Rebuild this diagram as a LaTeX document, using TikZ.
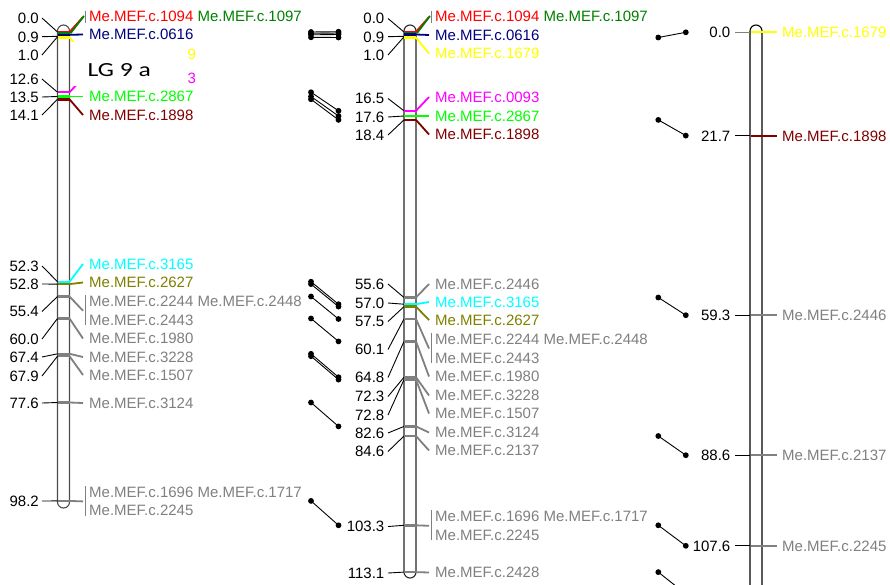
\documentclass[tikz,border=0pt]{standalone}
\usepackage{fontspec}
\setmainfont{Liberation Sans}
\newfontfamily\lgfont{Carlito}
\definecolor{mred}{HTML}{FF0000}
\definecolor{mgreen}{HTML}{008000}
\definecolor{mblue}{HTML}{000080}
\definecolor{myellow}{HTML}{FFFF00}
\definecolor{mmagenta}{HTML}{FF00FF}
\definecolor{mlime}{HTML}{00FF00}
\definecolor{mdred}{HTML}{800000}
\definecolor{mcyan}{HTML}{00FFFF}
\definecolor{molive}{HTML}{808000}
\definecolor{mgray}{HTML}{808080}
\newcommand\lblfont{\fontsize{15}{17}\selectfont}
\begin{document}
\begin{tikzpicture}[x=1pt,y=-1pt,
  lbl/.style={inner sep=0pt, anchor=west, font=\lblfont, text height=10.8pt, text depth=0pt},
  num/.style={inner sep=0pt, anchor=east, font=\lblfont, text height=10.8pt, text depth=0pt},
  tick/.style={black, line width=0.9pt},
  stub/.style={line width=2.4pt},
  conn/.style={line width=1.8pt},
  bracket/.style={mgray, line width=1.3pt},
  chrom/.style={fill=white, line width=1.1pt, rounded corners=6pt},
  hom/.style={black, line width=0.9pt}]
\useasboundingbox (0,0) rectangle (890,584);
\clip (0,0) rectangle (890,584);
\fill[white] (0,0) rectangle (890,584);

% ---------------- chromosomes
\draw[chrom, draw=black!70] (57.5,25) rectangle (69.5,508);
\draw[chrom, draw=black!85] (404,25) rectangle (416,578);
\draw[chrom, draw=black] (750,25) rectangle (762,640);

% ================= LEFT =================
\foreach \txt/\yl/\ym [count=\k] in {0.0/18/32, 0.9/36.7/36.3, 1.0/55/36.8, 12.6/79/92.2, 13.5/97/96.5, 14.1/115/99.3, 52.3/266/281.7, 52.8/284/284.1, 55.4/311.5/296.5, 60.0/339/318.5, 67.4/357/353.8, 67.9/376/356.2, 77.6/403/402.5, 98.2/501/500.9}
{ \node[num] (lnum\k) at (39,\yl) {\txt};
  \draw[tick] ([xshift=3pt]lnum\k.east) -- (57.5,\ym); }

% group 0.0
\node[lbl] (l1094) at (89,16.5) {\textcolor{mred}{Me.MEF.c.1094} \textcolor{mgreen}{Me.MEF.c.1097}};
\draw[stub, mred] (57.5,32) -- (69.5,32);
\draw[conn, mred] (69.5,32) -- ([xshift=-6pt,yshift=-0.6pt]l1094.west);
\draw[stub, mgreen] (57.5,33.3) -- (69.5,33.3);
\draw[conn, mgreen] (70.5,33.3) -- ([xshift=-5pt,yshift=0.6pt]l1094.west);
\draw[bracket] (85.5,10.5) -- (85.5,22.5);

\foreach \txt/\col/\yl/\ym [count=\k] in {0616/mblue/34.5/34.8, 2867/mlime/96.5/96.5, 1898/mdred/115/99.3, 3165/mcyan/264/281.7, 2627/molive/282.5/284.1, 1980/mgray/338.5/318.5, 3228/mgray/357/353.8, 1507/mgray/375/356.2, 3124/mgray/403/402.5}
{ \node[lbl, text=\col] (lmk\k) at (89,\yl) {Me.MEF.c.\txt};
  \draw[stub, color=\col] (57.5,\ym) -- (69.5,\ym);
  \draw[conn, color=\col] (69.5,\ym) -- ([xshift=-6pt]lmk\k.west); }

% markers whose labels are hidden by the title box (only last digit shows)
\draw[stub, myellow] (57.5,37.3) -- (69.5,37.3);
\draw[conn, myellow] (69.5,37.3) -- (83,54);
\draw[stub, mmagenta] (57.5,92.2) -- (69.5,92.2);
\draw[conn, mmagenta] (69.5,92.2) -- (83,78);
\fill[white] (72,42) rectangle (186.5,86);
\node[lbl, text=myellow] (l1679) at (187.5,54) {9};
\node[lbl, text=mmagenta] (l0093) at (187.5,78) {3};
\node[inner sep=0pt, anchor=base west, font=\lgfont\fontsize{20}{24}\selectfont] (lg) at (87.5,76) {\scalebox{1.28}[1]{LG 9 a}};

% group 55.4
\node[lbl, text=mgray] (l2244) at (89,301.5) {Me.MEF.c.2244 Me.MEF.c.2448};
\node[lbl, text=mgray] (l2443) at (89,320) {Me.MEF.c.2443};
\draw[stub, mgray] (57.5,296.5) -- (69.5,296.5);
\draw[conn, mgray] (69.5,296.5) -- (83,310.75);
\draw[bracket] (85.5,295.2) -- (85.5,325);
% group 98.2
\node[lbl, text=mgray] (l1696) at (89,492.3) {Me.MEF.c.1696 Me.MEF.c.1717};
\node[lbl, text=mgray] (l2245) at (89,510.5) {Me.MEF.c.2245};
\draw[stub, mgray] (57.5,500.9) -- (69.5,500.9);
\draw[conn, mgray] (69.5,500.9) -- (83,501.4);
\draw[bracket] (85.5,486) -- (85.5,515.7);

% ================= MIDDLE =================
\foreach \txt/\yl/\ym [count=\k] in {0.0/18.5/32, 0.9/36.7/36.3, 1.0/55/36.8, 16.5/98.5/110.8, 17.6/117/116, 18.4/135/119.9, 55.6/284/297.5, 57.0/303/304.2, 57.5/321.5/306.6, 60.1/349.5/319, 64.8/377.5/341.4, 72.3/396.5/377.2, 72.8/415/379.6, 82.6/433/426.4, 84.6/451.5/436, 103.3/526.5/525.3, 113.1/573/572.1}
{ \node[num] (mnum\k) at (384.5,\yl) {\txt};
  \draw[tick] ([xshift=3.5pt]mnum\k.east) -- (404,\ym); }

\node[lbl] (m1094) at (435,16.5) {\textcolor{mred}{Me.MEF.c.1094} \textcolor{mgreen}{Me.MEF.c.1097}};
\draw[stub, mred] (404,31.7) -- (416,31.7);
\draw[conn, mred] (416,31.7) -- ([xshift=-6pt,yshift=-0.6pt]m1094.west);
\draw[stub, mgreen] (404,33) -- (416,33);
\draw[conn, mgreen] (417,33) -- ([xshift=-5pt,yshift=0.6pt]m1094.west);
\draw[bracket] (431.5,10.5) -- (431.5,22.5);

\foreach \txt/\col/\yl/\ym [count=\k] in {0616/mblue/35/34.5, 1679/myellow/53.5/37.5, 0093/mmagenta/97/110.8, 2867/mlime/116/116, 1898/mdred/134.5/119.9, 2446/mgray/284/297.5, 3165/mcyan/302/304.2, 2627/molive/320/306.6, 1980/mgray/376.5/341.4, 3228/mgray/395.5/377.2, 1507/mgray/413.5/379.6, 3124/mgray/432.5/426.4, 2137/mgray/450.5/436, 2428/mgray/572.5/572.1}
{ \node[lbl, text=\col] (mmk\k) at (435,\yl) {Me.MEF.c.\txt};
  \draw[stub, color=\col] (404,\ym) -- (416,\ym);
  \draw[conn, color=\col] (416,\ym) -- ([xshift=-6pt]mmk\k.west); }

\node[lbl, text=mgray] (m2244) at (435,339) {Me.MEF.c.2244 Me.MEF.c.2448};
\node[lbl, text=mgray] (m2443) at (435,358) {Me.MEF.c.2443};
\draw[stub, mgray] (404,319) -- (416,319);
\draw[conn, mgray] (416,319) -- (429,348.5);
\draw[bracket] (431.5,332.7) -- (431.5,363);

\node[lbl, text=mgray] (m1696) at (435,516.5) {Me.MEF.c.1696 Me.MEF.c.1717};
\node[lbl, text=mgray] (m2245) at (435,535) {Me.MEF.c.2245};
\draw[stub, mgray] (404,525.3) -- (416,525.3);
\draw[conn, mgray] (416,525.3) -- (429,525.8);
\draw[bracket] (431.5,510.2) -- (431.5,540);

% ================= RIGHT =================
\foreach \txt/\nm/\col/\ym/\tc [count=\k] in {0.0/1679/myellow/32.3/mgray, 21.7/1898/mdred/135.6/black, 59.3/2446/mgray/315.2/black, 88.6/2137/mgray/455.2/black, 107.6/2245/mgray/545.8/black}
{ \node[num] (rnum\k) at (730.5,\ym) {\txt};
  \draw[tick, color=\tc] ([xshift=4.5pt]rnum\k.east) -- (750,\ym);
  \node[lbl, text=\col] (rmk\k) at (782,\ym) {Me.MEF.c.\nm};
  \draw[conn, color=\col] (751,\ym) -- ([xshift=-5.5pt]rmk\k.west); }

% ================= homology lines =================
\foreach \a/\b [count=\k] in {32/31.7, 33.3/33, 34.8/34.5, 37.3/37.5, 92.2/110.8, 96.5/116, 99.3/119.9, 281.7/304.2, 284.1/306.6, 296.5/319, 318.5/341.4, 353.8/377.2, 356.2/379.6, 402.5/426.4, 500.9/525.3}
{ \coordinate (hla\k) at (311,\a);
  \coordinate (hlb\k) at (338.5,\b);
  \draw[hom] (hla\k) -- (hlb\k);
  \fill (hla\k) circle[radius=2.9pt];
  \fill (hlb\k) circle[radius=2.9pt]; }

\foreach \a/\b [count=\k] in {37.5/32.3, 119.9/135.6, 297.5/315.2, 436/455.2, 525.3/545.8, 572.1/594}
{ \coordinate (hra\k) at (658.3,\a);
  \coordinate (hrb\k) at (685.8,\b);
  \draw[hom] (hra\k) -- (hrb\k);
  \fill (hra\k) circle[radius=2.9pt];
  \fill (hrb\k) circle[radius=2.9pt]; }
\end{tikzpicture}
\end{document}
